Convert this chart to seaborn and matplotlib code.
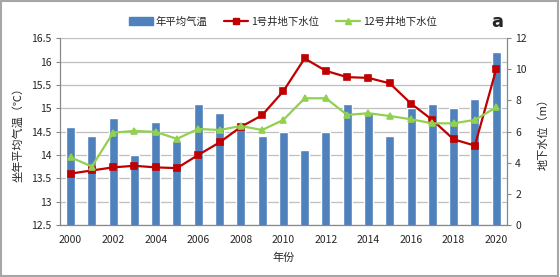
import numpy as np
import pandas as pd
import matplotlib
matplotlib.use('Agg')
import matplotlib.pyplot as plt
from matplotlib.lines import Line2D
from matplotlib.patches import Patch, Rectangle
import seaborn as sns

years = list(range(2000, 2021))
temp = [14.6, 14.4, 14.8, 14.0, 14.7, 14.3, 15.1, 14.9, 14.6, 14.4, 14.5,
        14.1, 14.5, 15.1, 14.9, 14.4, 15.0, 15.1, 15.0, 15.2, 16.2]
well1 = [3.3, 3.5, 3.7, 3.8, 3.7, 3.65, 4.5, 5.3, 6.3, 7.05, 8.6,
         10.7, 9.9, 9.5, 9.45, 9.1, 7.8, 6.75, 5.5, 5.1, 10.0]
well12 = [4.35, 3.75, 5.93, 6.04, 5.98, 5.53, 6.17, 6.1, 6.36, 6.1, 6.75,
          8.14, 8.14, 7.07, 7.18, 7.0, 6.79, 6.53, 6.53, 6.75, 7.56]

labels = ['年平均气温', '1号井地下水位', '12号井地下水位']
blue = '#4F81BD'
red = '#C00000'
green = '#92D050'

sns.set_style('white')
plt.rcParams['font.family'] = ['Noto Sans CJK SC', 'DejaVu Sans']
plt.rcParams['axes.unicode_minus'] = False

df = pd.DataFrame({'year': [str(y) for y in years], 'temp': temp,
                   'w1': well1, 'w12': well12})

fig = plt.figure(figsize=(5.6, 2.77), dpi=100)
ax = fig.add_axes([0.107, 0.188, 0.798, 0.674])

sns.barplot(data=df, x='year', y='temp', color=blue, saturation=1,
            width=0.42, ax=ax, zorder=2)
ax.set_ylim(12.5, 16.5)
ax.set_yticks(np.arange(12.5, 16.51, 0.5))
ax.set_yticklabels([f'{v:g}' for v in np.arange(12.5, 16.51, 0.5)])
ax.yaxis.grid(True, color='#BFBFBF', lw=0.9, zorder=0)
ax.set_axisbelow(True)

ax2 = ax.twinx()
sns.pointplot(data=df, x='year', y='w1', color=red, markers='s',
              markersize=3.8, linewidth=1.6, ax=ax2)
sns.pointplot(data=df, x='year', y='w12', color=green, markers='^',
              markersize=4.8, linewidth=1.6, ax=ax2)
ax2.set_ylim(0, 12)
ax2.set_yticks(range(0, 13, 2))

ax.set_xlim(-0.5, len(years) - 0.5)
ax2.set_xlim(-0.5, len(years) - 0.5)
ax.set_xticks(range(0, len(years), 2))
ax.set_xticklabels([str(y) for y in years[::2]])
ax.set_xticks(np.arange(-0.5, len(years), 1), minor=True)
ax.tick_params(axis='x', which='major', length=0, pad=7, labelsize=7.5)
ax.tick_params(axis='x', which='minor', length=4, color='#888888', width=0.8)
ax.tick_params(axis='y', length=3, color='#888888', labelsize=7.5, pad=3)
ax2.tick_params(axis='y', length=3, color='#888888', labelsize=7.5, pad=3)

for a in (ax, ax2):
    for s in a.spines.values():
        s.set_visible(False)
ax.spines['left'].set_visible(True)
ax.spines['bottom'].set_visible(True)
ax2.spines['right'].set_visible(True)
for s in (ax.spines['left'], ax.spines['bottom'], ax2.spines['right']):
    s.set_color('#888888')
    s.set_linewidth(0.9)

ax.set_xlabel('年份', fontsize=8, labelpad=6)
ax.set_ylabel('坐年平均气温（℃）', fontsize=8, labelpad=6)
ax2.set_xlabel('')
ax2.set_ylabel('地下水位（m）', fontsize=8, labelpad=8)

handles = [Patch(color=blue),
           Line2D([], [], color=red, marker='s', markersize=3.8, lw=1.6),
           Line2D([], [], color=green, marker='^', markersize=4.8, lw=1.6)]
fig.legend(handles, labels, loc='center', bbox_to_anchor=(0.505, 0.922), ncol=3,
           frameon=False, fontsize=7.5, handlelength=2.3, columnspacing=1.6,
           handletextpad=0.3)
fig.text(0.888, 0.92, 'a', fontsize=13, fontweight='bold', ha='center',
         va='center', family='DejaVu Sans')

fig.patches.append(Rectangle((0.002, 0.004), 0.995, 0.992,
                             transform=fig.transFigure, fill=False,
                             edgecolor='#A6A6A6', lw=1.5))

fig.savefig('out.png', dpi=100)
